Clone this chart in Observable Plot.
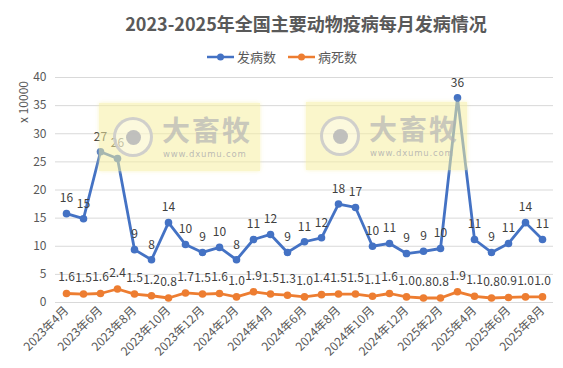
<!DOCTYPE html>
<html><head><meta charset="utf-8">
<script src="https://cdn.jsdelivr.net/npm/d3@7"></script>
<script src="https://cdn.jsdelivr.net/npm/@observablehq/plot@0.6"></script>
<style>
body{margin:0;width:563px;height:368px;overflow:hidden;background:#fff;font-family:"Noto Sans CJK SC","Noto Sans",sans-serif;position:relative}
#title{position:absolute;top:10px;left:0;width:612px;text-align:center;font-size:18px;font-weight:bold;color:#595959;white-space:nowrap}
#legend{position:absolute;top:47px;left:207px;display:flex;align-items:center;font-size:13px;color:#595959}
#legend .item{display:flex;align-items:center;margin-right:12px}
#legend svg{margin-right:3px}
#ylabel{position:absolute;left:22px;top:102px;transform:translate(-50%,-50%) rotate(-90deg);font-size:12px;color:#595959;white-space:nowrap}
#chart{position:absolute;top:65px;left:0}
.wm{position:absolute;width:161px;height:68px;background:rgba(246,238,160,0.55);box-shadow:0 0 4px rgba(246,238,160,0.6)}
.wm .ring{position:absolute;left:14px;top:14px;width:34px;height:34px;border-radius:50%;border:3px solid rgba(200,200,200,0.85);background:rgba(255,255,255,0.35)}
.wm .eye{position:absolute;left:10px;top:10px;width:15px;height:15px;border-radius:50%;background:rgba(185,185,185,0.9)}
.wm .big{position:absolute;left:63px;top:6px;font-size:28px;font-weight:bold;color:rgba(180,180,180,0.7);letter-spacing:2px}
.wm .url{position:absolute;left:64px;top:46px;font-size:8.5px;color:rgba(175,175,175,0.85);font-family:"DejaVu Sans",sans-serif;letter-spacing:0.8px}
</style>
</head><body>
<div id="title">2023-2025年全国主要动物疫病每月发病情况</div>
<div id="legend"></div>
<div id="chart"></div>
<div id="ylabel">x 10000</div>
<script>
const months = ["2023年4月","2023年5月","2023年6月","2023年7月","2023年8月","2023年9月","2023年10月","2023年11月","2023年12月",
  "2024年1月","2024年2月","2024年3月","2024年4月","2024年5月","2024年6月","2024年7月","2024年8月","2024年9月","2024年10月","2024年11月","2024年12月",
  "2025年1月","2025年2月","2025年3月","2025年4月","2025年5月","2025年6月","2025年7月","2025年8月"];
const tickLabels = ["2023年4月","2023年6月","2023年8月","2023年10月","2023年12月","2024年2月","2024年4月","2024年6月","2024年8月","2024年10月","2024年12月","2025年2月","2025年4月","2025年6月","2025年8月"];
const onset = [15.8,14.9,26.8,25.6,9.4,7.6,14.2,10.3,8.9,9.8,7.6,11.2,12.1,8.9,10.8,11.5,17.5,16.9,10.0,10.5,8.7,9.1,9.6,36.4,11.2,8.9,10.5,14.2,11.2];
const deaths = [1.6,1.5,1.6,2.4,1.5,1.2,0.8,1.7,1.5,1.6,1.0,1.9,1.5,1.3,1.0,1.4,1.5,1.5,1.1,1.6,1.0,0.8,0.8,1.9,1.1,0.8,0.9,1.0,1.0];
const seriesNames = ["发病数","病死数"];
const colors = ["#4472C4","#ED7D31"];
const yTicks = [0,5,10,15,20,25,30,35,40];

const rows1 = months.map((m,i)=>({m, v: onset[i]}));
const rows2 = months.map((m,i)=>({m, v: deaths[i]}));

// legend
const leg = document.getElementById("legend");
seriesNames.forEach((n,i)=>{
  const d = document.createElement("div"); d.className="item";
  d.innerHTML = `<svg width="27" height="10"><line x1="0" y1="5" x2="27" y2="5" stroke="${colors[i]}" stroke-width="2.5"/><circle cx="13.5" cy="5" r="3.5" fill="${colors[i]}"/></svg><span>${n}</span>`;
  leg.appendChild(d);
});

const plot = Plot.plot({
  width: 563, height: 303,
  marginLeft: 55, marginRight: 10, marginTop: 12, marginBottom: 66,
  style: {fontFamily: '"Noto Sans CJK SC","Noto Sans",sans-serif', fontSize: "12px", color: "#595959", background: "transparent"},
  x: {type: "point", domain: months, padding: 0.5},
  y: {domain: [0, 40]},
  marks: [
    Plot.gridY(yTicks, {stroke: "#d9d9d9", strokeOpacity: 1}),
    Plot.ruleY([0], {stroke: "#d9d9d9"}),
    Plot.axisY({ticks: yTicks, tickSize: 0, tickPadding: 9, label: null, fill: "#595959"}),
    Plot.axisX({ticks: tickLabels, tickSize: 0, tickRotate: -45, tickPadding: 6, label: null, fill: "#595959"}),
    Plot.lineY(rows1, {x: "m", y: "v", stroke: colors[0], strokeWidth: 2.8}),
    Plot.dot(rows1, {x: "m", y: "v", fill: colors[0], r: 3.8}),
    Plot.text(rows1, {x: "m", y: "v", text: d => d3.format(".0f")(d.v), dy: -15, fill: "#404040", fontSize: 12}),
    Plot.lineY(rows2, {x: "m", y: "v", stroke: colors[1], strokeWidth: 2.8}),
    Plot.dot(rows2, {x: "m", y: "v", fill: colors[1], r: 3.8}),
    Plot.text(rows2, {x: "m", y: "v", text: d => d.v.toFixed(1), dy: -16, fill: "#404040", fontSize: 12})
  ]
});
document.getElementById("chart").appendChild(plot);

// watermarks (overlay, semi-transparent)
[[99,103],[306,102]].forEach(([l,t])=>{
  const w = document.createElement("div"); w.className="wm";
  w.style.left = l+"px"; w.style.top = t+"px";
  w.innerHTML = '<div class="ring"><div class="eye"></div></div><div class="big">大畜牧</div><div class="url">www.dxumu.com</div>';
  document.body.appendChild(w);
});
</script>
</body></html>
